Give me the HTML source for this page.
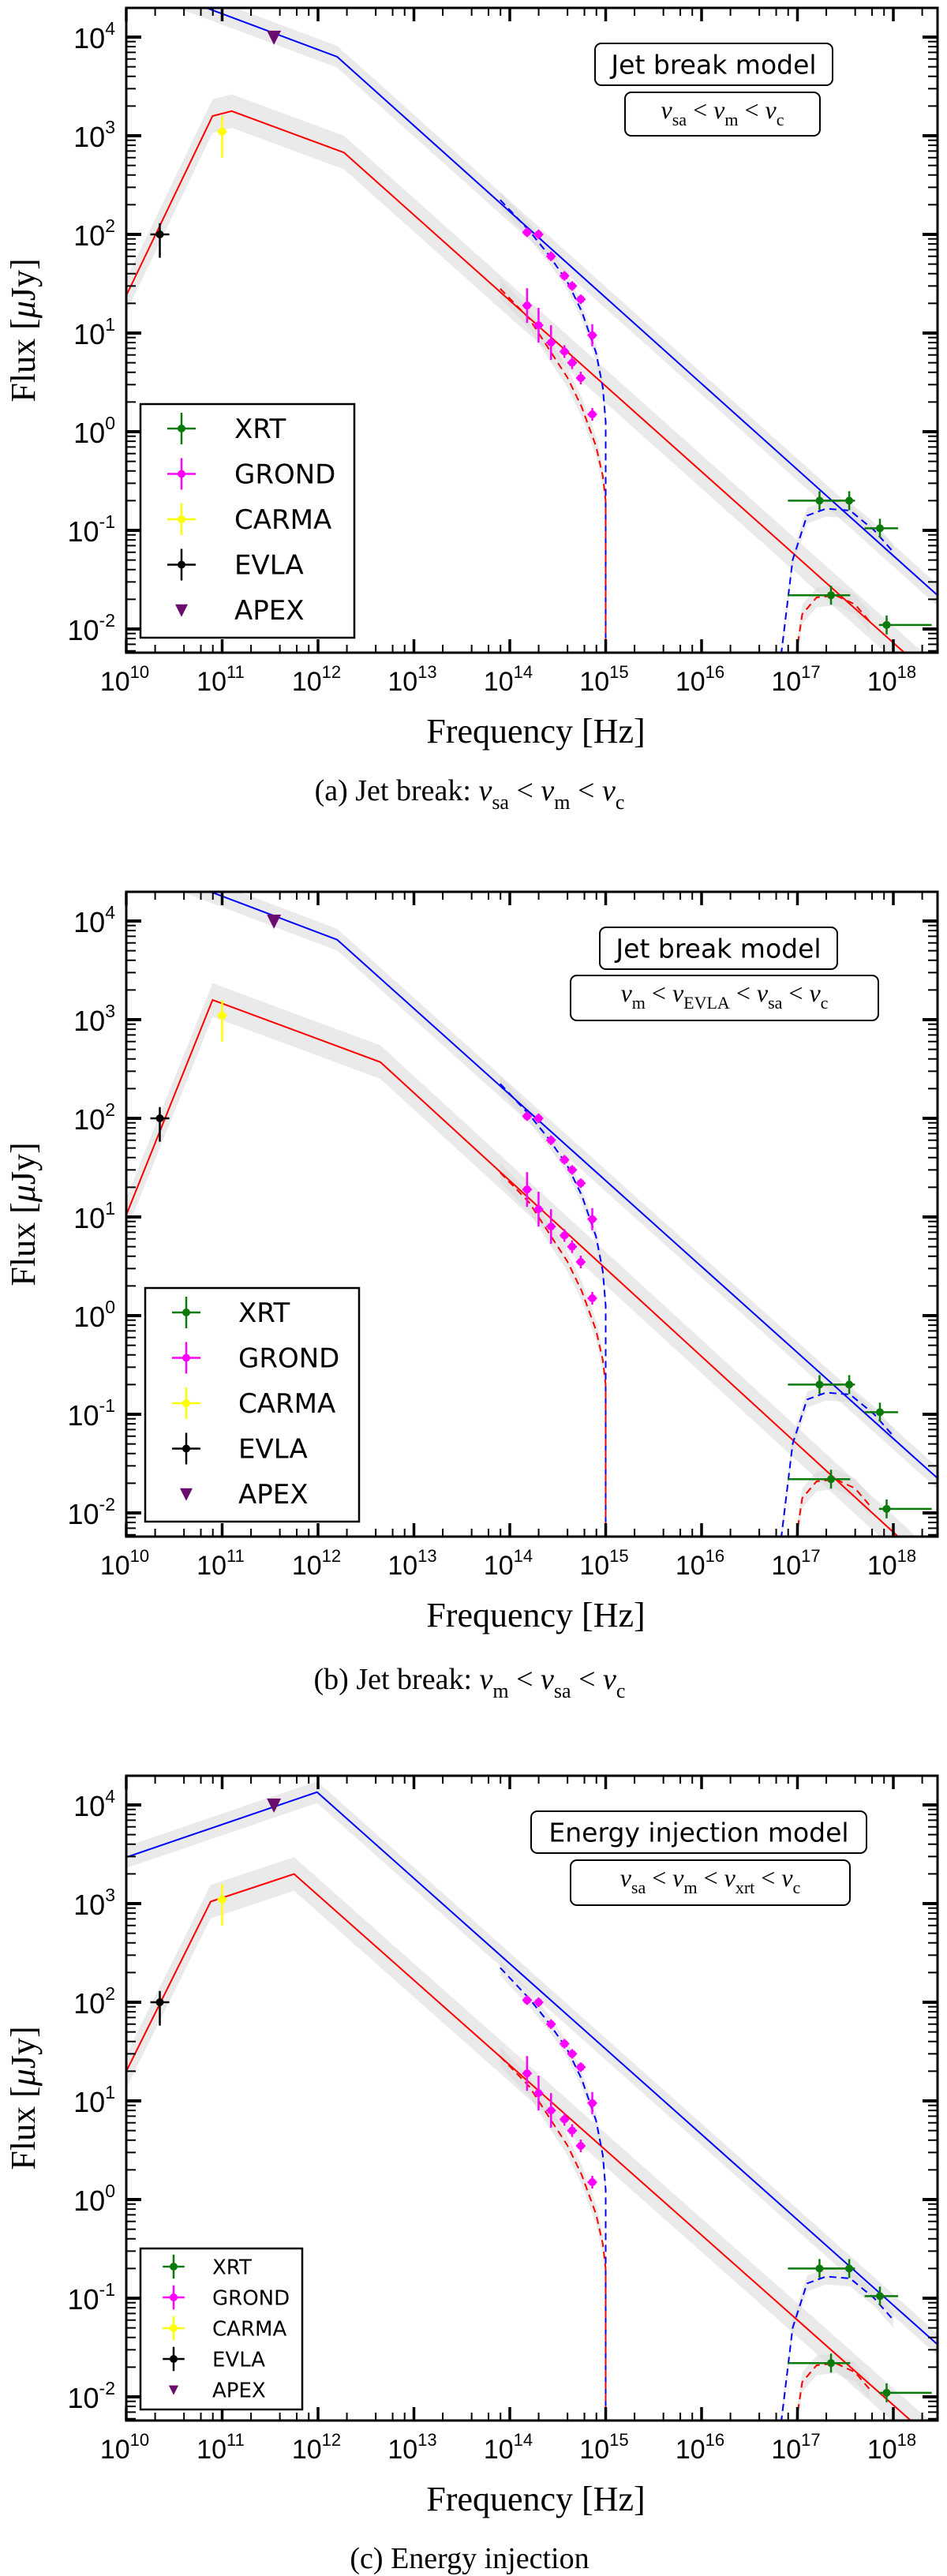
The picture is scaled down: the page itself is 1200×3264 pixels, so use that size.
<!DOCTYPE html>
<html><head><meta charset="utf-8">
<style>
html,body{margin:0;padding:0;background:#fff;}
svg{display:block;}
</style></head>
<body>
<svg id="fig" width="1200" height="3264" viewBox="0 0 1200 3264" xmlns="http://www.w3.org/2000/svg"></svg>
<script>
// ---- data (log10 nu [Hz], flux [uJy]) ----
const evlaNu = [10.35];
const evlaF = [100];
const evlaLo = [58];
const evlaHi = [130];
const carmaNu = [11.0];
const carmaF = [1100];
const carmaLo = [600];
const carmaHi = [1580];
const apexNu = [11.54];
const apexF = [10000];
const grondNu = [14.18, 14.30, 14.43, 14.57, 14.65, 14.74, 14.86];
const grondF1 = [105, 100, 60, 38, 30, 22, 9.5];
const grondF2 = [19, 12, 8, 6.5, 5, 3.5, 1.5];
const xrtNu1 = [17.23, 17.54, 17.86];
const xrtF1 = [0.2, 0.2, 0.105];
const xrtLo1 = [16.9, 17.2, 17.7];
const xrtHi1 = [17.45, 17.6, 18.05];
const xrtNu2 = [17.35, 17.93];
const xrtF2 = [0.022, 0.011];
const xrtLo2 = [16.9, 17.85];
const xrtHi2 = [17.55, 18.4];
// ---- model curves (log nu, log F) ----
const aBlueNu = [10.0, 12.2, 18.6];   const aBlueF = [4.6, 3.80, -1.78];
const aRedNu = [10.0, 10.9, 11.1, 12.27, 18.6]; const aRedF = [1.38, 3.2, 3.25, 2.83, -2.66];
const bBlueNu = [10.0, 12.2, 18.6];   const bBlueF = [4.62, 3.81, -1.77];
const bRedNu = [10.0, 10.9, 12.65, 18.6]; const bRedF = [1.02, 3.2, 2.57, -2.73];
const cBlueNu = [10.0, 11.99, 18.6];  const cBlueF = [3.47, 4.13, -1.59];
const cRedNu = [10.0, 10.88, 11.75, 18.6]; const cRedF = [1.30, 3.02, 3.30, -2.6];
const optBlueNu = [13.9, 14.2, 14.4, 14.6, 14.75, 14.9, 14.97, 15.0, 15.0];
const optBlueF = [2.35, 2.04, 1.8, 1.52, 1.22, 0.8, 0.45, 0.1, -2.6];
const optRedNu = [13.9, 14.2, 14.4, 14.6, 14.75, 14.9, 14.97, 15.0, 15.0];
const optRedF = [1.45, 1.15, 0.85, 0.55, 0.25, -0.15, -0.45, -0.7, -2.6];
const xBlueNu = [16.8, 16.95, 17.1, 17.3, 17.55, 17.8, 18.0];
const xBlueF = [-2.5, -1.3, -0.85, -0.78, -0.8, -1.0, -1.22];
const xRedNu = [16.95, 17.05, 17.2, 17.4, 17.6, 17.75];
const xRedF = [-2.5, -1.85, -1.68, -1.66, -1.75, -1.92];

const NS = 'http://www.w3.org/2000/svg';
const svg = document.getElementById('fig');
function mk(tag, attrs, parent){
  const e = document.createElementNS(NS, tag);
  for (const k in attrs) e.setAttribute(k, attrs[k]);
  (parent || svg).appendChild(e);
  return e;
}
const L = 160, R = 1188, DEC = 121.5, PH = 817, YD = 125, YTOP = 4.296;
function X(ln){ return L + (ln - 10) * DEC; }

const panels = [
  {id:'a', top:10, blue:[aBlueNu,aBlueF], red:[aRedNu,aRedF],
   box1:[754,55,301,53,'Jet break model'], box2:[792,117,247,55],
   math:[['ν','sa'],['ν','m'],['ν','c']],
   caption:'(a) Jet break: ', capSub:[['ν','sa'],['ν','m'],['ν','c']], capY:1000,
   leg:[178,512,271,296,543,57.5,34,230,297]},
  {id:'b', top:1130, blue:[bBlueNu,bBlueF], red:[bRedNu,bRedF],
   box1:[760,1175,301,53,'Jet break model'], box2:[723,1236,390,57],
   math:[['ν','m'],['ν','EVLA'],['ν','sa'],['ν','c']],
   caption:'(b) Jet break: ', capSub:[['ν','m'],['ν','sa'],['ν','c']], capY:2126,
   leg:[184,1632,271,296,1663,57.5,34,236,302]},
  {id:'c', top:2250, blue:[cBlueNu,cBlueF], red:[cRedNu,cRedF],
   box1:[673,2295,425,53,'Energy injection model'], box2:[723,2357,354,57],
   math:[['ν','sa'],['ν','m'],['ν','xrt'],['ν','c']],
   caption:'(c) Energy injection', capSub:null, capY:3240,
   leg:[178,2849,205,204,2872,39,26,220,269]}
];

function band(g, nu, lf, w, Y, name){
  let up = '', dn = '';
  for (let i = 0; i < nu.length; i++) up += (i ? 'L' : 'M') + X(nu[i]) + ',' + Y(lf[i] + w);
  for (let i = nu.length - 1; i >= 0; i--) dn += 'L' + X(nu[i]) + ',' + Y(lf[i] - w);
  const p = mk('path', {d: up + dn + 'Z', fill:'#d8d8d8', 'fill-opacity':'0.55', stroke:'none'}, g);
  
  
}
function curve(g, nu, lf, col, dash, Y, name){
  let d = '';
  for (let i = 0; i < nu.length; i++) d += (i ? 'L' : 'M') + X(nu[i]) + ',' + Y(lf[i]);
  const p = mk('path', {d: d, fill:'none', stroke: col, 'stroke-width':'2', 'stroke-dasharray': dash ? '9,6' : 'none'}, g);
  
  
}
function errpt(g, x, y, x1, x2, y1, y2, col, name){
  const e = mk('g', {}, g);
  
  
  mk('line', {x1:x1, x2:x2, y1:y, y2:y, stroke:col, 'stroke-width':'2.5'}, e);
  mk('line', {x1:x, x2:x, y1:y1, y2:y2, stroke:col, 'stroke-width':'2.5'}, e);
  mk('circle', {cx:x, cy:y, r:5, fill:col}, e);
}
function tri(g, x, y, s, name){
  const t = mk('path', {d:`M${x-s},${y-s*0.9}L${x+s},${y-s*0.9}L${x},${y+s*1.1}Z`, fill:'#6a0d6e'}, g);
  
  
}
// writes nu_sub < nu_sub < ... with proper subscript baselines
function mathParts(t, parts, fs, sep, italic){
  const sh = Math.round(fs * 0.28);
  parts.forEach((p, i) => {
    const a = mk('tspan', italic ? {'font-style':'italic'} : {}, t);
    a.textContent = p[0];
    const b = mk('tspan', {'font-size': Math.round(fs * 0.68), dy: sh}, t);
    b.textContent = p[1];
    if (i < parts.length - 1) {
      const s = mk('tspan', {dy: -sh}, t);
      s.textContent = sep;
    }
  });
}

panels.forEach(P => {
  const top = P.top, bot = top + PH;
  const Y = lf => top + (YTOP - lf) * YD;
  const g = mk('g', {});
  
  
  const cp = mk('clipPath', {id:'clip' + P.id}, g);
  mk('rect', {x:L, y:top, width:R - L, height:PH}, cp);
  const plot = mk('g', {'clip-path':'url(#clip' + P.id + ')'}, g);
  
  

  band(plot, P.blue[0], P.blue[1], 0.11, Y, 'blue-model-band');
  band(plot, P.red[0], P.red[1], 0.17, Y, 'red-model-band');
  band(plot, optBlueNu, optBlueF, 0.08, Y, 'blue-optical-band');
  band(plot, optRedNu, optRedF, 0.1, Y, 'red-optical-band');
  band(plot, xBlueNu, xBlueF, 0.08, Y, 'blue-xray-band');
  band(plot, xRedNu, xRedF, 0.1, Y, 'red-xray-band');
  curve(plot, P.blue[0], P.blue[1], '#0000ff', false, Y, 'blue-model-line');
  curve(plot, P.red[0], P.red[1], '#ff0000', false, Y, 'red-model-line');
  curve(plot, optBlueNu, optBlueF, '#0000ff', true, Y, 'blue-optical-dashed');
  curve(plot, optRedNu, optRedF, '#ff0000', true, Y, 'red-optical-dashed');
  curve(plot, xBlueNu, xBlueF, '#0000ff', true, Y, 'blue-xray-dashed');
  curve(plot, xRedNu, xRedF, '#ff0000', true, Y, 'red-xray-dashed');

  const lg = Math.log10;
  evlaNu.forEach((n, i) => errpt(plot, X(n), Y(lg(evlaF[i])), X(n) - 12, X(n) + 12, Y(lg(evlaHi[i])), Y(lg(evlaLo[i])), '#000', 'evla-point'));
  carmaNu.forEach((n, i) => errpt(plot, X(n), Y(lg(carmaF[i])), X(n) - 6, X(n) + 6, Y(lg(carmaHi[i])), Y(lg(carmaLo[i])), '#ffff00', 'carma-point'));
  apexNu.forEach((n, i) => tri(plot, X(n), Y(lg(apexF[i])), 9, 'apex-point'));
  grondNu.forEach((n, i) => {
    const y1 = Y(lg(grondF1[i])), y2 = Y(lg(grondF2[i]));
    const b1 = (i === 6) ? 14 : 6, b2 = (i < 3) ? 22 : 8;
    errpt(plot, X(n), y1, X(n) - 6, X(n) + 6, y1 - b1, y1 + b1, '#ff00ff', 'grond-point-epoch1');
    errpt(plot, X(n), y2, X(n) - 6, X(n) + 6, y2 - b2, y2 + b2, '#ff00ff', 'grond-point-epoch2');
  });
  xrtNu1.forEach((n, i) => { const y = Y(lg(xrtF1[i])); errpt(plot, X(n), y, X(xrtLo1[i]), X(xrtHi1[i]), y - 12, y + 12, '#0a7a0a', 'xrt-point-epoch1'); });
  xrtNu2.forEach((n, i) => { const y = Y(lg(xrtF2[i])); errpt(plot, X(n), y, X(xrtLo2[i]), X(xrtHi2[i]), y - 12, y + 12, '#0a7a0a', 'xrt-point-epoch2'); });

  const fr = mk('rect', {x:L, y:top, width:R - L, height:PH, fill:'none', stroke:'#000', 'stroke-width':'3'}, g);
  
  
  const xt = mk('g', {stroke:'#000'}, g);
  
  
  for (let d = 10; d <= 18; d++) {
    const x = X(d);
    mk('line', {x1:x, x2:x, y1:bot, y2:bot - 17, 'stroke-width':'3.5'}, xt);
    mk('line', {x1:x, x2:x, y1:top, y2:top + 17, 'stroke-width':'3.5'}, xt);
    [2, 4, 6, 8].forEach(m => {
      const xm = X(d + Math.log10(m));
      if (xm < R) {
        mk('line', {x1:xm, x2:xm, y1:bot, y2:bot - 10, 'stroke-width':'2'}, xt);
        mk('line', {x1:xm, x2:xm, y1:top, y2:top + 10, 'stroke-width':'2'}, xt);
      }
    });
    const t = mk('text', {x:x - 2, y:bot + 48, 'font-family':'Liberation Sans, sans-serif', 'font-size':'34', 'text-anchor':'middle', fill:'#000'}, g);
    
    
    const a = mk('tspan', {}, t); a.textContent = '10';
    const b = mk('tspan', {'font-size':'22', dy:'-16'}, t); b.textContent = String(d);
  }
  const yt = mk('g', {stroke:'#000'}, g);
  
  
  for (let e = -3; e <= 4; e++) {
    for (let m = 1; m <= 9; m++) {
      const y = Y(e + Math.log10(m));
      if (y < top || y > bot) continue;
      const len = m === 1 ? 19 : 12, sw = m === 1 ? 4 : 2;
      mk('line', {x1:L, x2:L + len, y1:y, y2:y, 'stroke-width':sw}, yt);
      mk('line', {x1:R, x2:R - len, y1:y, y2:y, 'stroke-width':sw}, yt);
    }
    const y = Y(e);
    if (y < top - 5 || y > bot) continue;
    const t = mk('text', {x:146, y:y + 14, 'font-family':'Liberation Sans, sans-serif', 'font-size':'36', 'text-anchor':'end', fill:'#000'}, g);
    
    
    const a = mk('tspan', {}, t); a.textContent = '10';
    const b = mk('tspan', {'font-size':'23', dy:'-17'}, t); b.textContent = String(e);
  }
  const xl = mk('text', {x:679, y:bot + 114, 'font-family':'Liberation Serif, serif', 'font-size':'44', 'text-anchor':'middle', fill:'#000'}, g);
  
  
  xl.textContent = 'Frequency [Hz]';
  const cy = top + PH / 2;
  const yl = mk('text', {x:0, y:0, transform:`translate(44,${cy}) rotate(-90)`, 'font-family':'Liberation Serif, serif', 'font-size':'44', 'text-anchor':'middle', fill:'#000'}, g);
  
  
  const y1 = mk('tspan', {}, yl); y1.textContent = 'Flux [';
  const y2 = mk('tspan', {'font-style':'italic'}, yl); y2.textContent = 'μ';
  const y3 = mk('tspan', {}, yl); y3.textContent = 'Jy]';

  const bx = P.box1;
  const b1 = mk('g', {}, g);
  
  
  mk('rect', {x:bx[0], y:bx[1], width:bx[2], height:bx[3], rx:8, fill:'#fff', stroke:'#000', 'stroke-width':'2'}, b1);
  const bt = mk('text', {x:bx[0] + bx[2] / 2, y:bx[1] + bx[3] / 2 + 12, 'font-family':'DejaVu Sans, sans-serif', 'font-size':'33', 'text-anchor':'middle', fill:'#000'}, b1);
  bt.textContent = bx[4];
  const b2 = P.box2;
  const g2 = mk('g', {}, g);
  
  
  mk('rect', {x:b2[0], y:b2[1], width:b2[2], height:b2[3], rx:8, fill:'#fff', stroke:'#000', 'stroke-width':'2'}, g2);
  const mt = mk('text', {x:b2[0] + b2[2] / 2, y:b2[1] + 33, 'font-family':'Liberation Serif, serif', 'font-size':'32', 'text-anchor':'middle', fill:'#000'}, g2);
  
  
  mathParts(mt, P.math, 32, '  <  ', true);

  const lgd = P.leg;
  const lgG = mk('g', {}, g);
  
  
  mk('rect', {x:lgd[0], y:lgd[1], width:lgd[2], height:lgd[3], fill:'#fff', stroke:'#000', 'stroke-width':'2.5'}, lgG);
  const names = ['XRT', 'GROND', 'CARMA', 'EVLA', 'APEX'];
  const cols = ['#0a7a0a', '#ff00ff', '#ffff00', '#000', '#6a0d6e'];
  names.forEach((nm, i) => {
    const y = lgd[4] + i * lgd[5], mx = lgd[7];
    const s = lgd[6] / 34;
    const eg = mk('g', {}, lgG);
    
    
    if (nm === 'APEX') tri(eg, mx, y, 8 * s, 'legend-apex-marker');
    else errpt(eg, mx, y, mx - 18 * s, mx + 18 * s, y - 20 * s, y + 20 * s, cols[i], 'legend-marker');
    const t = mk('text', {x:lgd[8], y:y + lgd[6] * 0.36, 'font-family':'DejaVu Sans, sans-serif', 'font-size':lgd[6], fill:'#000'}, eg);
    t.textContent = nm;
  });

  const cap = mk('text', {x:595, y:P.capY + 14, 'font-family':'Liberation Serif, serif', 'font-size':'38', 'text-anchor':'middle', fill:'#000'}, g);
  
  
  const c0 = mk('tspan', {}, cap); c0.textContent = P.caption;
  if (P.capSub) mathParts(cap, P.capSub, 38, ' < ', true);
});
</script>
</body></html>
